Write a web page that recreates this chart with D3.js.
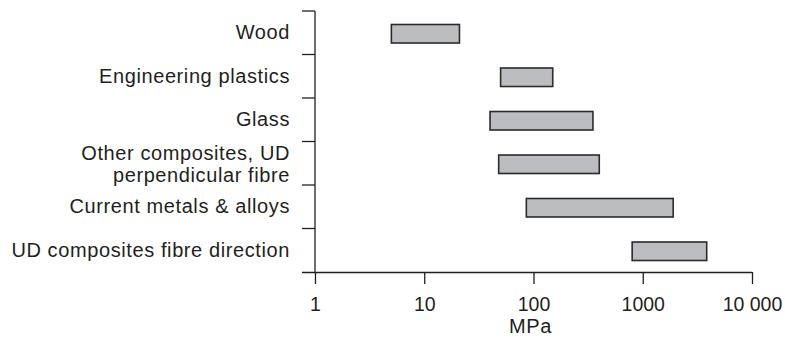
<!DOCTYPE html>
<html>
<head>
<meta charset="utf-8">
<script src="https://cdn.jsdelivr.net/npm/d3@7"></script>
<style>
  html, body { margin: 0; padding: 0; background: #fff; }
  svg { display: block; }
  text { font-family: "Liberation Sans", Arial, sans-serif; fill: #231f20; }
</style>
</head>
<body>
<svg id="chart" width="785" height="347"></svg>
<script>
// Strength ranges of material classes (MPa)
const categories = [
  ["Wood"],
  ["Engineering plastics"],
  ["Glass"],
  ["Other composites, UD", "perpendicular fibre"],
  ["Current metals & alloys"],
  ["UD composites fibre direction"]
];
const lowValues  = [5, 50, 40, 48, 86, 800];
const highValues = [21, 150, 350, 400, 1900, 3850];
const tickValues = [1, 10, 100, 1000, 10000];
const tickLabels = ["1", "10", "100", "1000", "10 000"];
const axisTitle = "MPa";

const svg = d3.select("#chart");
const margin = { left: 315, right: 33, top: 11, bottom: 75 };
const W = 785, H = 347;

const x = d3.scaleLog()
  .domain([1, 10000])
  .range([margin.left, W - margin.right]);

const keys = categories.map((c, i) => i);
const y = d3.scaleBand()
  .domain(keys)
  .range([margin.top, H - margin.bottom]);

const ink = "#231f20";

// X axis
const xAxis = d3.axisBottom(x)
  .tickValues(tickValues)
  .tickFormat((d, i) => tickLabels[i])
  .tickSize(12)
  .tickPadding(13);
const gx = svg.append("g")
  .attr("transform", `translate(0,${H - margin.bottom})`)
  .call(xAxis);
gx.select(".domain").attr("stroke", ink).attr("stroke-width", 1.3)
  .attr("d", `M${margin.left - 13},0.5H${x(10000)}`);
gx.selectAll(".tick line").attr("stroke", ink).attr("stroke-width", 1.3);
gx.selectAll(".tick text")
  .style("font-size", "19.5px")
  .style("font-family", "'Liberation Sans', Arial, sans-serif")
  .attr("fill", ink);

// Y axis with band boundary ticks pointing left
const gy = svg.append("g");
gy.append("line")
  .attr("x1", margin.left).attr("x2", margin.left)
  .attr("y1", margin.top).attr("y2", H - margin.bottom)
  .attr("stroke", ink).attr("stroke-width", 1.3);
const bounds = keys.map(k => y(k));
gy.selectAll("line.b").data(bounds).join("line")
  .attr("class", "b")
  .attr("x1", margin.left - 13).attr("x2", margin.left)
  .attr("y1", d => d).attr("y2", d => d)
  .attr("stroke", ink).attr("stroke-width", 1.3);

// Category labels, right-aligned beside the axis
const labels = svg.append("g");
const lh = 21.5;
categories.forEach((lines, i) => {
  const cy = y(i) + y.bandwidth() / 2;
  const t = labels.append("text")
    .attr("text-anchor", "end")
    .style("font-size", "20px")
    .style("letter-spacing", "0.6px");
  lines.forEach((ln, j) => {
    t.append("tspan")
      .attr("x", margin.left - 25)
      .attr("y", cy + 6.5 - (lines.length - 1) * lh / 2 + j * lh + (lines.length > 1 ? 1 : 0))
      .text(ln);
  });
});

// Range bars
const barH = 18.5;
svg.append("g").selectAll("rect").data(keys).join("rect")
  .attr("x", i => x(lowValues[i]))
  .attr("width", i => x(highValues[i]) - x(lowValues[i]))
  .attr("y", i => y(i) + y.bandwidth() / 2 - barH / 2 + 1)
  .attr("height", barH)
  .attr("fill", "#bcbdc0")
  .attr("stroke", "#2b2b2b")
  .attr("stroke-width", 1.6);

// Axis title
svg.append("text")
  .attr("x", x(100) - 3)
  .attr("y", 333)
  .attr("text-anchor", "middle")
  .style("font-size", "20px")
  .style("letter-spacing", "0.6px")
  .text(axisTitle);
</script>
</body>
</html>
